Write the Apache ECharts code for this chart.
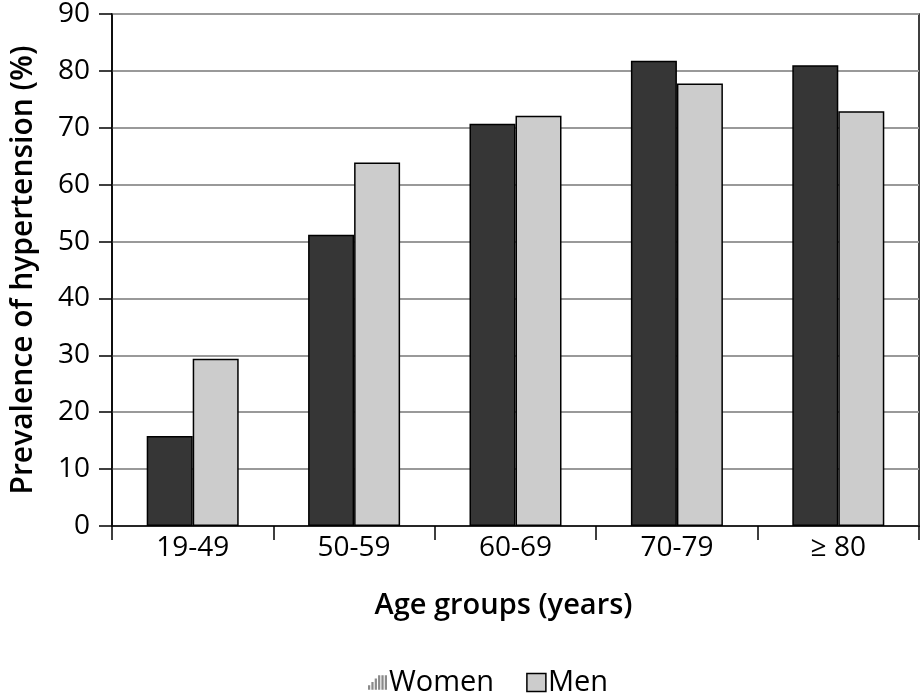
<!DOCTYPE html>
<html>
<head>
<meta charset="utf-8">
<script src="https://cdn.jsdelivr.net/npm/echarts@6/dist/echarts.min.js"></script>
<style>html,body{margin:0;padding:0;background:#fff;}#c{width:921px;height:697px;}</style>
</head>
<body>
<div id="c"></div>
<script>
const categories = ['19-49', '50-59', '60-69', '70-79', '≥ 80'];
const women = [15.8, 51.2, 70.7, 81.8, 81.0];
const men = [29.4, 63.9, 72.1, 77.8, 72.9];
const yTicks = { min: 0, max: 90, interval: 10 };

const FONT = '"Open Sans", "Noto Sans", sans-serif';
const chart = echarts.init(document.getElementById('c'), null, { renderer: 'canvas' });
chart.setOption({
  animation: false,
  backgroundColor: '#fff',
  textStyle: { fontFamily: FONT },
  grid: { left: 106, right: 2, top: 8, bottom: 171, show: true, borderColor: '#000', borderWidth: 1.5, containLabel: false },
  legend: {
    bottom: 0,
    left: 368,
    padding: [0, 0, 0, 0],
    itemGap: 32,
    itemWidth: 19,
    itemHeight: 18,
    textStyle: { fontFamily: FONT, fontSize: 29, color: '#000', padding: [0, 0, 0, -3] },
    data: [
      { name: 'Women', icon: 'path://M0,14 L2,14 L2,10 L0,10 Z M3,14 L5,14 L5,7 L3,7 Z M6,14 L8,14 L8,4 L6,4 Z M9,14 L11,14 L11,1 L9,1 Z M12,14 L14,14 L14,1 L12,1 Z M15,14 L17,14 L17,1 L15,1 Z', itemStyle: { color: '#8a8a8a', borderWidth: 0 } },
      { name: 'Men', icon: 'rect', itemStyle: { color: '#cccccc', borderColor: '#000', borderWidth: 1.5 } }
    ]
  },
  xAxis: {
    type: 'category',
    data: categories,
    name: 'Age groups (years)',
    nameLocation: 'middle',
    nameGap: 65,
    nameTextStyle: { fontFamily: FONT, fontSize: 29, fontWeight: 600, color: '#000', padding: [0, 24, 0, 0] },
    axisLine: { lineStyle: { color: '#000', width: 1.5 } },
    axisTick: { show: true, length: 14, lineStyle: { color: '#000', width: 1.5 } },
    axisLabel: { fontFamily: FONT, fontSize: 28, color: '#000', margin: 8 }
  },
  yAxis: {
    type: 'value',
    min: yTicks.min,
    max: yTicks.max,
    interval: yTicks.interval,
    name: 'Prevalence of hypertension (%)',
    nameLocation: 'middle',
    nameGap: 74,
    nameTextStyle: { fontFamily: FONT, fontSize: 30, fontWeight: 600, color: '#000' },
    axisLine: { show: true, lineStyle: { color: '#000', width: 1.5 } },
    axisTick: { show: true, length: 13, lineStyle: { color: '#000', width: 1.5 } },
    axisLabel: { fontFamily: FONT, fontSize: 28, color: '#000', margin: 22 },
    splitLine: { lineStyle: { color: '#999', width: 2 } }
  },
  series: [
    { name: 'Women', type: 'bar', data: women, barWidth: 46, barGap: '0%',
      itemStyle: { color: '#363636', borderColor: '#000', borderWidth: 1.5 } },
    { name: 'Men', type: 'bar', data: men, barWidth: 46, barGap: '0%',
      itemStyle: { color: '#cccccc', borderColor: '#000', borderWidth: 1.5 } }
  ]
});
</script>
</body>
</html>
